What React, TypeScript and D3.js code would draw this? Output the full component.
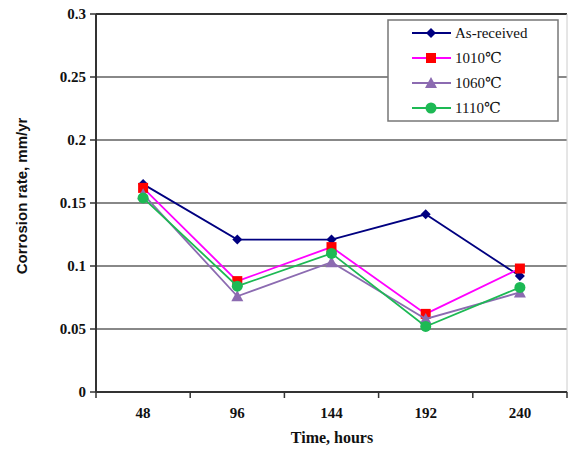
import React from "react";
import * as d3 from "d3";

const categories = ["48", "96", "144", "192", "240"];
const asReceived = [0.165, 0.121, 0.121, 0.141, 0.092];
const t1010 = [0.162, 0.088, 0.115, 0.062, 0.098];
const t1060 = [0.157, 0.076, 0.103, 0.058, 0.079];
const t1110 = [0.154, 0.084, 0.110, 0.052, 0.083];
const yTicks = [0, 0.05, 0.1, 0.15, 0.2, 0.25, 0.3];
const yTickLabels = ["0", "0.05", "0.1", "0.15", "0.2", "0.25", "0.3"];

const series = [
  { name: "As-received", values: asReceived, line: "#000080", fill: "#000080", marker: "diamond" },
  { name: "1010℃", values: t1010, line: "#FF00FF", fill: "#FF0000", marker: "square" },
  { name: "1060℃", values: t1060, line: "#8C6BB1", fill: "#8C6BB1", marker: "triangle" },
  { name: "1110℃", values: t1110, line: "#1DB954", fill: "#1DB954", marker: "circle" },
];

const SERIF = "'Liberation Serif', 'Times New Roman', 'DejaVu Serif', serif";
const SANS = "'Liberation Sans', Arial, sans-serif";

const W = 568, H = 451;
const left = 96, right = 567, top = 14, bottom = 392;

function Marker({ type, x, y, color }: { type: string; x: number; y: number; color: string }) {
  if (type === "diamond") {
    const s = 5;
    return <path d={`M${x},${y - s}L${x + s},${y}L${x},${y + s}L${x - s},${y}Z`} fill={color} />;
  }
  if (type === "square") {
    return <rect x={x - 5} y={y - 5} width={10} height={10} fill={color} />;
  }
  if (type === "triangle") {
    return <path d={`M${x},${y - 6}L${x + 6},${y + 5}L${x - 6},${y + 5}Z`} fill={color} />;
  }
  return <circle cx={x} cy={y} r={5.5} fill={color} />;
}

export default function App() {
  const x = d3.scaleBand<string>().domain(categories).range([left, right]);
  const y = d3.scaleLinear().domain([0, 0.3]).range([bottom, top]);
  const cx = (c: string) => (x(c) as number) + x.bandwidth() / 2;
  const line = d3.line<number>().x((_, i) => cx(categories[i])).y((v) => y(v));
  const boundaries = categories.map((c) => x(c) as number).concat([right]);

  return (
    <svg width={W} height={H} style={{ position: "absolute", left: 0, top: 0, background: "#fff" }}>
      <rect x={0} y={0} width={W} height={H} fill="#fff" />
      {yTicks.map((t, i) =>
        t === 0 ? null : (
          <line key={i} x1={left} x2={right} y1={y(t)} y2={y(t)} stroke={t === 0.3 ? "#333" : "#888"} strokeWidth={2} />
        )
      )}
      <line x1={right} x2={right} y1={top} y2={bottom} stroke="#ccc" strokeWidth={1} />
      <line x1={left} x2={left} y1={top} y2={bottom} stroke="#333" strokeWidth={2} />
      <line x1={left} x2={right} y1={bottom} y2={bottom} stroke="#333" strokeWidth={2} />
      {yTicks.map((t, i) => (
        <g key={i}>
          <line x1={left - 6} x2={left} y1={y(t)} y2={y(t)} stroke="#333" strokeWidth={1.5} />
          <text x={left - 10} y={y(t)} dy="0.35em" textAnchor="end" style={{ fontFamily: SERIF, fontWeight: "bold", fontSize: 15 }} fill="#111">
            {yTickLabels[i]}
          </text>
        </g>
      ))}
      {boundaries.map((b, i) => (
        <line key={i} x1={b} x2={b} y1={bottom} y2={bottom + 6} stroke="#333" strokeWidth={1.5} />
      ))}
      {categories.map((c) => (
        <text key={c} x={cx(c)} y={418} textAnchor="middle" style={{ fontFamily: SERIF, fontWeight: "bold", fontSize: 15 }} fill="#111">
          {c}
        </text>
      ))}
      <text x={332} y={443} textAnchor="middle" style={{ fontFamily: SERIF, fontWeight: "bold", fontSize: 16 }} fill="#111">
        Time, hours
      </text>
      <text transform="translate(27,196) rotate(-90)" textAnchor="middle" style={{ fontFamily: SANS, fontWeight: "bold", fontSize: 15 }} fill="#111">
        Corrosion rate, mm/yr
      </text>
      {series.map((s) => (
        <g key={s.name}>
          <path d={line(s.values) || ""} fill="none" stroke={s.line} strokeWidth={1.8} />
          {s.values.map((v, i) => (
            <Marker key={i} type={s.marker} x={cx(categories[i])} y={y(v)} color={s.fill} />
          ))}
        </g>
      ))}
      <rect x={388} y={20} width={170} height={101} fill="#fff" stroke="#777" strokeWidth={1.5} />
      {series.map((s, i) => {
        const ly = 33 + i * 25;
        return (
          <g key={s.name}>
            <line x1={412} x2={451} y1={ly} y2={ly} stroke={s.line} strokeWidth={1.8} />
            <Marker type={s.marker} x={431} y={ly} color={s.fill} />
            <text x={455} y={ly} dy="0.35em" style={{ fontFamily: SERIF, fontSize: 15 }} fill="#111">
              {s.name}
            </text>
          </g>
        );
      })}
    </svg>
  );
}
